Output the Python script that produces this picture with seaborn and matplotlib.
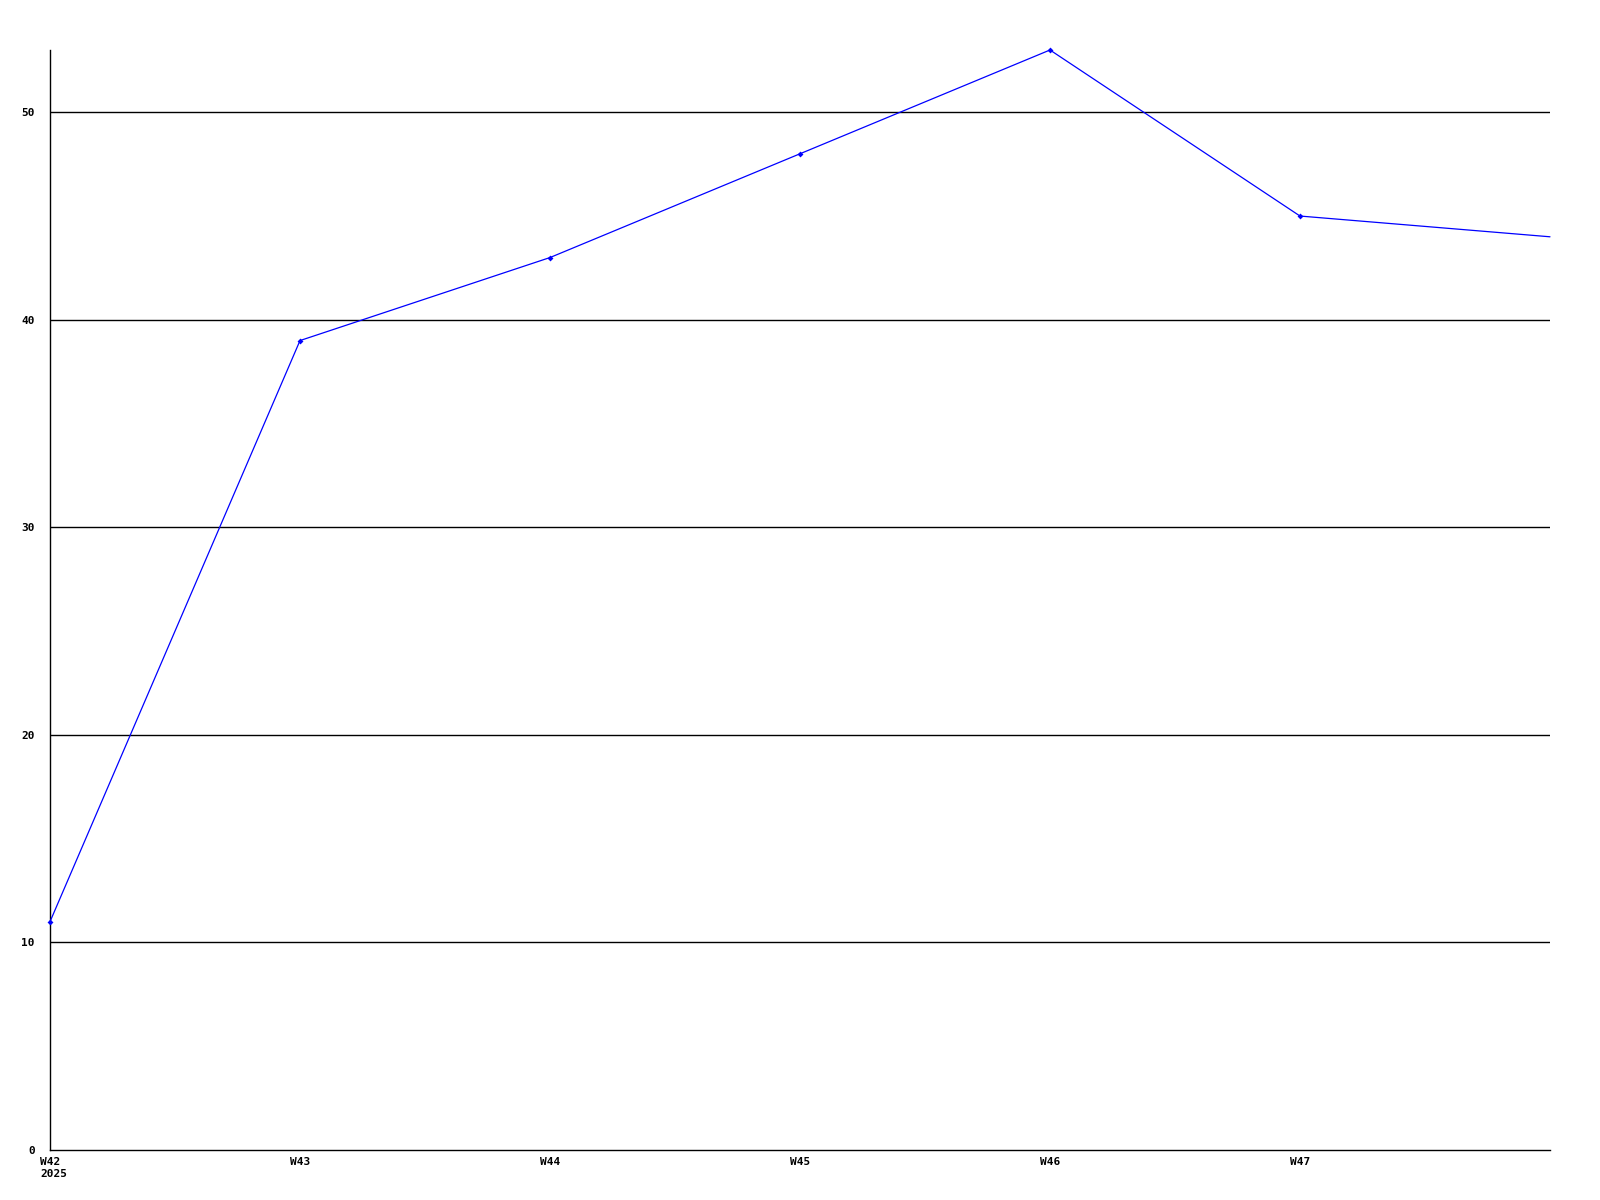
import matplotlib
matplotlib.use("Agg")
import matplotlib.pyplot as plt
import matplotlib.transforms as mtransforms
import seaborn as sns
import pandas as pd

weeks = ["W42", "W43", "W44", "W45", "W46", "W47", "W48"]
values = [11, 39, 43, 48, 53, 45, 44]
tick_labels = ["W42\n2025", "W43", "W44", "W45", "W46", "W47"]
y_ticks = [0, 10, 20, 30, 40, 50]

sns.set_theme(style="white")
plt.rcParams['font.family'] = ['DejaVu Sans Mono', 'DejaVu Sans']

df = pd.DataFrame({"pos": list(range(len(weeks))), "value": values, "week": weeks})

fig = plt.figure(figsize=(16, 12), dpi=100)
ax = fig.add_axes([50/1600, 50/1200, 1500/1600, 1100/1200])

for y in y_ticks[1:]:
    ax.axhline(y, color="black", lw=1.0, zorder=1)

sns.lineplot(data=df, x="pos", y="value", ax=ax, color="#0000ff", lw=0.9,
             marker="D", markersize=3, markeredgewidth=0, zorder=3,
             markevery=list(range(len(weeks) - 1)), clip_on=False)

ax.set_xlim(0, 6)
ax.set_ylim(0, 53)
ax.set_xticks(range(len(tick_labels)))
ax.set_xticklabels(tick_labels, fontsize=8, fontweight="bold", ha="left", va="top",
                   linespacing=1.3)
ax.set_yticks(y_ticks)
ax.set_yticklabels([str(v) for v in y_ticks], fontsize=8, fontweight="bold")
ax.tick_params(axis="both", length=0, colors="black")
ax.tick_params(axis="y", pad=11)
ax.tick_params(axis="x", pad=5)
offset = mtransforms.ScaledTranslation(-10/100, 0, fig.dpi_scale_trans)
for lab in ax.get_xticklabels():
    lab.set_transform(lab.get_transform() + offset)

ax.set_xlabel("")
ax.set_ylabel("")
for s in ["top", "right"]:
    ax.spines[s].set_visible(False)
for s in ["left", "bottom"]:
    ax.spines[s].set_color("black")
    ax.spines[s].set_linewidth(1.0)

fig.savefig("out.png", dpi=100, facecolor="white")
